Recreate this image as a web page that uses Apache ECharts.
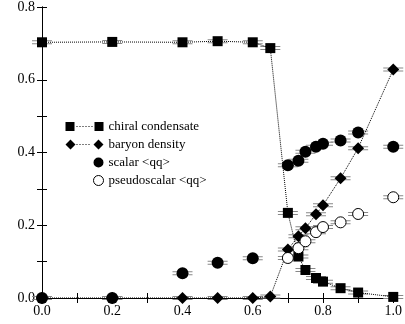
<!DOCTYPE html>
<html><head><meta charset="utf-8">
<script src="https://cdn.jsdelivr.net/npm/echarts@6/dist/echarts.min.js"></script>
<style>html,body{margin:0;padding:0;background:#fff}#c{width:405px;height:324px}</style>
</head><body><div id="c"></div>
<script>
const chiralX = [0.0, 0.2, 0.4, 0.5, 0.6, 0.65, 0.7, 0.73, 0.75, 0.78, 0.8, 0.85, 0.9, 1.0];
const chiralY = [0.703, 0.704, 0.703, 0.706, 0.703, 0.687, 0.234, 0.114, 0.077, 0.055, 0.045, 0.027, 0.015, 0.003];
const baryonX = [0.0, 0.2, 0.4, 0.5, 0.6, 0.65, 0.7, 0.73, 0.75, 0.78, 0.8, 0.85, 0.9, 1.0];
const baryonY = [0.0, 0.0, 0.0, 0.0, 0.0, 0.004, 0.133, 0.17, 0.192, 0.23, 0.255, 0.329, 0.412, 0.628];
const scalarX = [0.0, 0.2, 0.4, 0.5, 0.6, 0.7, 0.73, 0.75, 0.78, 0.8, 0.85, 0.9, 1.0];
const scalarY = [0.0, 0.0, 0.068, 0.097, 0.109, 0.365, 0.377, 0.402, 0.416, 0.424, 0.433, 0.455, 0.416];
const pseudoX = [0.7, 0.73, 0.75, 0.78, 0.8, 0.85, 0.9, 1.0];
const pseudoY = [0.11, 0.137, 0.156, 0.181, 0.195, 0.208, 0.231, 0.277];
const xTicks = ['0.0', '0.2', '0.4', '0.6', '0.8', '1.0'];
const yTicks = ['0.0', '0.2', '0.4', '0.6', '0.8'];
const names = ['chiral condensate', 'baryon density', 'scalar <qq>', 'pseudoscalar <qq>'];

const zip = (xs, ys) => xs.map((x, i) => [x, ys[i]]);
const font = 'Liberation Serif';
const errSym = 'path://M0,0H20V1H0Z M0,3H20V4H0Z';

const axisCommon = {
  min: 0, interval: 0.2,
  axisLine: { lineStyle: { color: '#000', width: 1 } },
  axisTick: { show: true, inside: true, length: 5, lineStyle: { color: '#000', width: 1 } },
  minorTick: { show: true, splitNumber: 2, length: 5, lineStyle: { color: '#000', width: 1 } },
  splitLine: { show: false },
  axisLabel: { color: '#000', fontFamily: font, fontSize: 14 }
};

function errSeries(xs, ys) {
  return { type: 'scatter', data: zip(xs, ys), symbol: errSym, symbolSize: [20, 4],
    itemStyle: { color: '#888', opacity: 1 }, z: 1, silent: true, legendHoverLink: false };
}

const legendText = { color: '#000', fontFamily: font, fontSize: 13, fontWeight: 'normal' };

const chart = echarts.init(document.getElementById('c'), null, { renderer: 'canvas' });
chart.setOption({
  animation: false,
  backgroundColor: '#fff',
  textStyle: { fontFamily: font },
  grid: { left: 42, right: 9, top: 3, bottom: 26 },
  xAxis: [
    Object.assign({}, axisCommon, { max: 1.0, position: 'bottom',
      axisLabel: Object.assign({}, axisCommon.axisLabel, { margin: 6,
        formatter: v => xTicks[Math.round(v / 0.2)] || '' }) }),
    Object.assign({}, axisCommon, { max: 1.0, position: 'top', axisLabel: { show: false } })
  ],
  yAxis: [
    Object.assign({}, axisCommon, { max: 0.8, position: 'left',
      axisLabel: Object.assign({}, axisCommon.axisLabel, { margin: 7,
        formatter: v => yTicks[Math.round(v / 0.2)] || '' }) }),
    Object.assign({}, axisCommon, { max: 0.8, position: 'right', axisLabel: { show: false } })
  ],
  legend: {
    orient: 'vertical', left: 60, top: 115, itemWidth: 38, itemHeight: 10, itemGap: 5,
    textStyle: legendText,
    data: [
      { name: names[0], icon: 'path://M0,0H9V9H0Z M11,4H12V5H11Z M14,4H15V5H14Z M17,4H18V5H17Z M20,4H21V5H20Z M23,4H24V5H23Z M26,4H27V5H26Z M29,0H38V9H29Z' },
      { name: names[1], icon: 'path://M5,0L10,5L5,10L0,5Z M11,4.5H12V5.5H11Z M14,4.5H15V5.5H14Z M17,4.5H18V5.5H17Z M20,4.5H21V5.5H20Z M23,4.5H24V5.5H23Z M28,5L33,0L38,5L33,10Z' },
      { name: names[2], icon: 'path://M0,5L0.01,5L0,5.01Z M38,5A5,5 0 1,1 28,5A5,5 0 1,1 38,5Z' },
      { name: names[3], icon: 'path://M0,5L0.01,5L0,5.01Z M38,5A5,5 0 1,1 28,5A5,5 0 1,1 38,5Z',
        itemStyle: { color: '#fff', borderColor: '#000', borderWidth: 1 } }
    ]
  },
  series: [
    errSeries(chiralX, chiralY), errSeries(baryonX, baryonY),
    errSeries(scalarX, scalarY), errSeries(pseudoX, pseudoY),
    { name: names[0], type: 'line', data: zip(chiralX, chiralY), symbol: 'rect', symbolSize: 10,
      itemStyle: { color: '#000', opacity: 1 }, lineStyle: { color: '#000', width: 1, type: 'dotted' }, z: 3 },
    { name: names[1], type: 'line', data: zip(baryonX, baryonY), symbol: 'diamond', symbolSize: 12,
      itemStyle: { color: '#000', opacity: 1 }, lineStyle: { color: '#000', width: 1, type: 'dotted' }, z: 3 },
    { name: names[2], type: 'scatter', data: zip(scalarX, scalarY), symbol: 'circle', symbolSize: 12,
      itemStyle: { color: '#000', opacity: 1 }, z: 4 },
    { name: names[3], type: 'scatter', data: zip(pseudoX, pseudoY), symbol: 'circle', symbolSize: 11,
      itemStyle: { color: '#fff', borderColor: '#000', borderWidth: 1, opacity: 1 }, z: 5 }
  ]
});
</script></body></html>
